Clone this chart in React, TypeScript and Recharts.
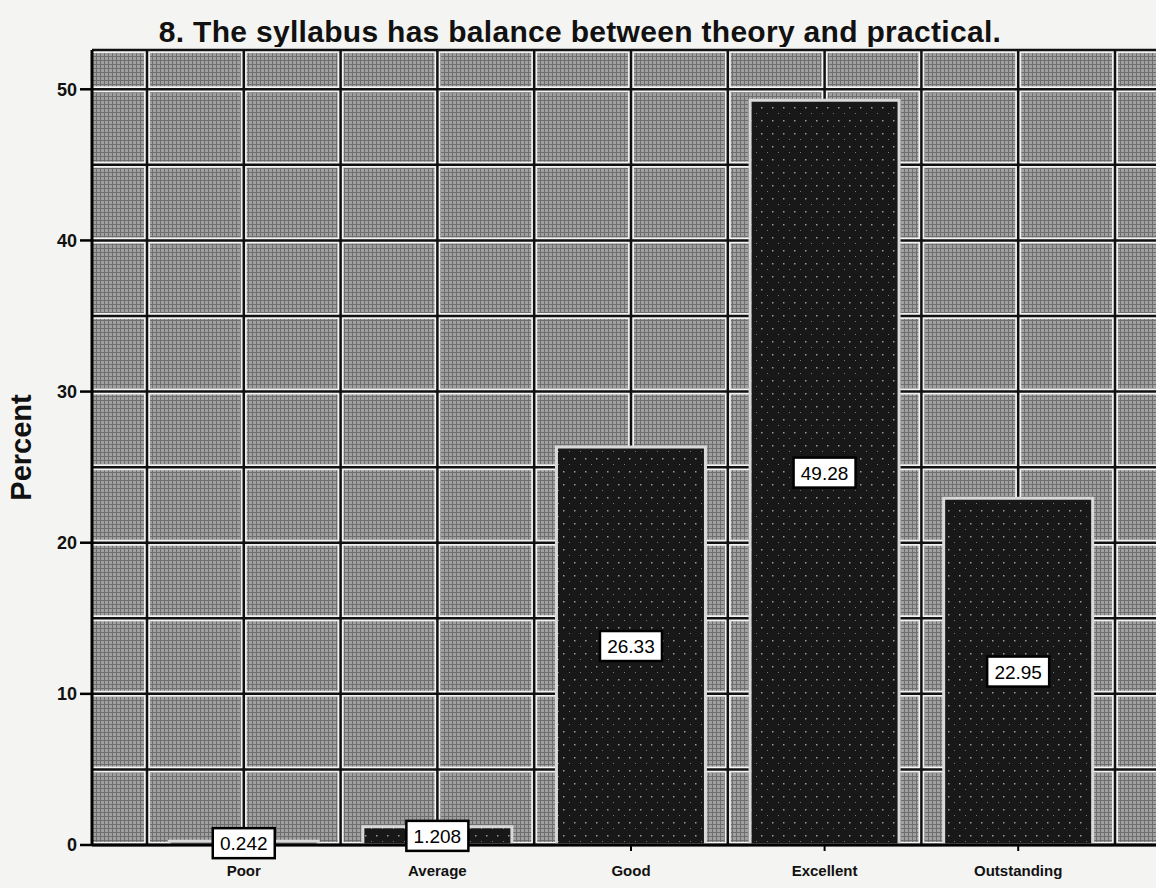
import { BarChart, Bar, XAxis, YAxis, CartesianGrid, LabelList } from 'recharts'

// Response categories and percentages
const categories = ['Poor', 'Average', 'Good', 'Excellent', 'Outstanding']
const percents = [0.242, 1.208, 26.33, 49.28, 22.95]
const yTicks = [0, 10, 20, 30, 40, 50]
const gridSteps = [0, 5, 10, 15, 20, 25, 30, 35, 40, 45, 50]

const Y_MAX = 52.6
const X_PAD = 55

const data = categories.map((name, i) => ({ name, percent: percents[i] }))

const font = '"Liberation Sans", Arial, sans-serif'

// horizontal lines every 5 percent, plus the plot's top edge
const hLines = ({ offset }: any) => [
  offset.top,
  ...gridSteps.map((v) => offset.top + offset.height * (1 - v / Y_MAX)),
]

// vertical lines at every half band
const vLines = ({ offset }: any) => {
  const band = (offset.width - 2 * X_PAD) / categories.length
  const pts: number[] = []
  for (let k = 0; k <= categories.length * 2; k++) pts.push(offset.left + X_PAD + (k * band) / 2)
  return pts
}

const ValueBox = (props: any) => {
  const { x, y, width, height, value } = props
  const cx = x + width / 2
  const cy = y + height / 2
  const w = 62
  const h = 30
  return (
    <g>
      <rect x={cx - w / 2} y={cy - h / 2} width={w} height={h} fill="#ffffff" stroke="#000" strokeWidth={2.5} />
      <text x={cx} y={cy + 7} textAnchor="middle" fontFamily={font} fontSize={19} fill="#000">
        {value}
      </text>
    </g>
  )
}

const PercentLabel = (props: any) => {
  const { viewBox } = props
  const x = viewBox.x + 31
  const y = viewBox.y + viewBox.height / 2
  return (
    <text x={x} y={y} transform={`rotate(-90 ${x} ${y})`} textAnchor="middle" fontFamily={font} fontWeight={700} fontSize={29} fill="#111">
      Percent
    </text>
  )
}

export default function App() {
  return (
    <div style={{ position: 'absolute', left: 0, top: 0, width: 1156, height: 888, overflow: 'hidden', background: '#f4f4f2' }}>
      <div
        style={{
          position: 'absolute',
          left: 0,
          top: 15,
          width: 1160,
          textAlign: 'center',
          fontFamily: font,
          fontWeight: 700,
          fontSize: 30,
          letterSpacing: 0.3,
          lineHeight: '34px',
          color: '#111',
        }}
      >
        8. The syllabus has balance between theory and practical.
      </div>
      <BarChart
        width={1170}
        height={888}
        data={data}
        margin={{ top: 50, right: 0, bottom: 0, left: 0 }}
        barCategoryGap="11.5%"
        style={{ position: 'absolute', left: 0, top: 0 }}
      >
        <defs>
          <pattern id="bgTex" width="4" height="4" patternUnits="userSpaceOnUse">
            <rect width="4" height="4" fill="#a0a0a0" />
            <path d="M0 0.5H4M0.5 0V4" stroke="#6e6e6e" strokeWidth="1" />
          </pattern>
          <pattern id="barTex" width="11" height="13" patternUnits="userSpaceOnUse">
            <rect width="11" height="13" fill="#181818" />
            <rect x="2" y="3" width="1.5" height="1.5" fill="#9a9a9a" />
            <rect x="8" y="9" width="1" height="1" fill="#777" />
          </pattern>
        </defs>
        <CartesianGrid
          fill="url(#bgTex)"
          stroke="#f2f2f2"
          strokeWidth={6}
          horizontalCoordinatesGenerator={hLines}
          verticalCoordinatesGenerator={vLines}
        />
        <CartesianGrid
          stroke="#111"
          strokeWidth={2.5}
          horizontalCoordinatesGenerator={hLines}
          verticalCoordinatesGenerator={vLines}
        />
        <XAxis
          dataKey="name"
          height={43}
          padding={{ left: X_PAD, right: X_PAD }}
          axisLine={{ stroke: '#000', strokeWidth: 3 }}
          tickLine={{ stroke: '#000', strokeWidth: 2 }}
          tickSize={6}
          tickMargin={14}
          tick={{ fill: '#111', fontFamily: font, fontWeight: 700, fontSize: 15 }}
          interval={0}
        />
        <YAxis
          width={92}
          domain={[0, Y_MAX]}
          ticks={yTicks}
          axisLine={{ stroke: '#000', strokeWidth: 3 }}
          tickLine={{ stroke: '#000', strokeWidth: 2.5 }}
          tickSize={12}
          tickMargin={3}
          tick={{ fill: '#111', fontFamily: font, fontWeight: 700, fontSize: 18 }}
          label={<PercentLabel />}
        />
        <Bar dataKey="percent" fill="url(#barTex)" stroke="#d8d8d8" strokeWidth={3} isAnimationActive={false}>
          <LabelList dataKey="percent" content={<ValueBox />} />
        </Bar>
      </BarChart>
    </div>
  )
}
